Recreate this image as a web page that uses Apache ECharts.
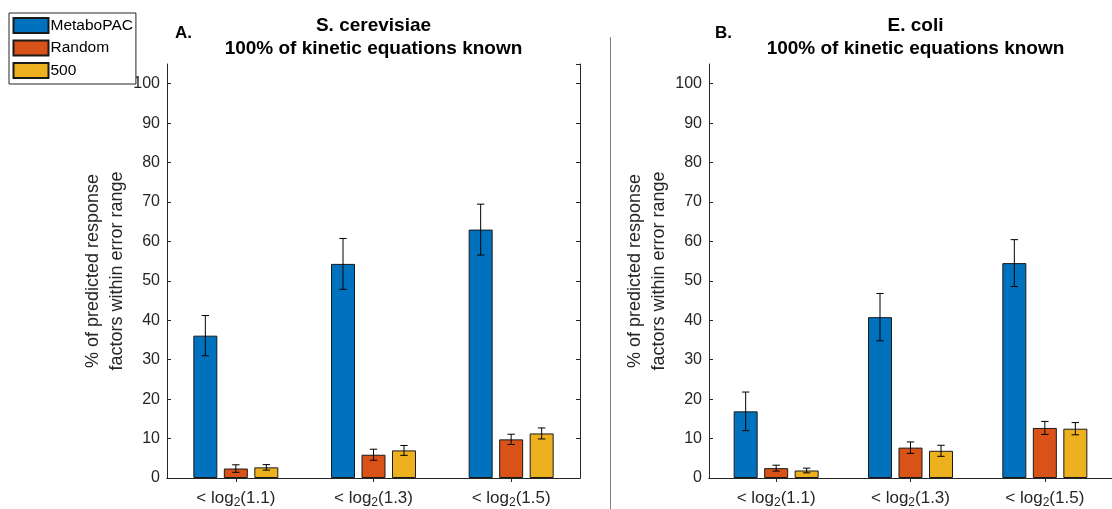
<!DOCTYPE html>
<html>
<head>
<meta charset="utf-8">
<script src="https://cdn.jsdelivr.net/npm/echarts@6/dist/echarts.min.js"></script>
<style>
html,body{margin:0;padding:0;background:#fff;}
#chart{width:1112px;height:509px;}
</style>
</head>
<body>
<div id="chart"></div>
<script>
// ---- data ----
const categories = ['< log2(1.1)', '< log2(1.3)', '< log2(1.5)'];
const seriesNames = ['MetaboPAC', 'Random', '500'];
const yTicks = [0, 10, 20, 30, 40, 50, 60, 70, 80, 90, 100];

// S. cerevisiae (panel A)
const scMetaboPAC = [36.1, 54.3, 63.0];
const scMetaboPACErr = [5.1, 6.45, 6.45];
const scRandom = [2.4, 5.9, 9.8];
const scRandomErr = [0.95, 1.4, 1.3];
const sc500 = [2.7, 7.0, 11.3];
const sc500Err = [0.7, 1.25, 1.4];

// E. coli (panel B)
const ecMetaboPAC = [16.9, 40.8, 54.5];
const ecMetaboPACErr = [4.9, 6.0, 5.95];
const ecRandom = [2.5, 7.7, 12.7];
const ecRandomErr = [0.75, 1.45, 1.65];
const ec500 = [1.9, 6.9, 12.5];
const ec500Err = [0.6, 1.4, 1.55];

// ---- styles ----
const colors = ['#0072BD', '#D95319', '#EDB120'];
const FONT = "'Liberation Sans', Arial, Helvetica, sans-serif";
const TXT = '#262626';
const BAR_W = 24;
const BAR_STEP = 30.5;
const GRID_W = 413;

const chart = echarts.init(document.getElementById('chart'));

function xAxes(gridIndex) {
  return [
    {
      type: 'category', gridIndex: gridIndex, data: categories, position: 'bottom',
      axisLine: { lineStyle: { color: TXT, width: 1 } },
      axisTick: { show: false },
      axisLabel: {
        interval: 0,
        fontFamily: FONT, fontSize: 17, color: TXT, margin: 9,
        formatter: function (v) { return v.replace('log2', 'log{sub|2}'); },
        rich: { sub: { fontFamily: FONT, fontSize: 12, color: TXT, padding: [10, 0, 0, 0] } }
      }
    },
    {
      type: 'category', gridIndex: gridIndex, data: categories, position: 'top',
      axisLine: { lineStyle: { color: TXT, width: 1 } },
      axisTick: { show: true, inside: true, alignWithLabel: true, interval: 0, length: 4, lineStyle: { color: TXT } },
      axisLabel: { show: false, interval: 0 }
    }
  ];
}
function yAxes(gridIndex) {
  return [
    {
      type: 'value', gridIndex: gridIndex, min: 0, max: 105, interval: 10, position: 'left',
      name: '% of predicted response\nfactors within error range',
      nameLocation: 'middle', nameGap: 38, nameRotate: 90,
      nameTextStyle: { fontFamily: FONT, fontSize: 18, color: TXT, lineHeight: 24 },
      axisLine: { show: true, lineStyle: { color: TXT, width: 1 } },
      axisTick: { show: true, inside: true, length: 4, lineStyle: { color: TXT } },
      axisLabel: { fontFamily: FONT, fontSize: 16, color: TXT, margin: 7, showMaxLabel: false,
        formatter: function (v) { return yTicks.indexOf(v) >= 0 ? String(v) : ''; } },
      splitLine: { show: false }
    },
    {
      // right-hand box edge: a left-type axis shifted to the right edge, ticks pointing inward (left)
      type: 'value', gridIndex: gridIndex, min: 0, max: 105, interval: 10, position: 'left',
      offset: -GRID_W,
      axisLine: { show: true, onZero: false, lineStyle: { color: TXT, width: 1 } },
      axisTick: { show: true, inside: false, length: 4, lineStyle: { color: TXT } },
      axisLabel: { show: false },
      splitLine: { show: false }
    }
  ];
}

function barSeries(name, idx, values, xi, yi) {
  return {
    type: 'bar', name: name, data: values, xAxisIndex: xi, yAxisIndex: yi,
    barWidth: BAR_W, barGap: ((BAR_STEP - BAR_W) / BAR_W * 100) + '%',
    itemStyle: { color: colors[idx], borderColor: '#1a1a1a', borderWidth: 1 },
    emphasis: { disabled: true }, z: 2
  };
}
function errSeries(name, idx, values, errs, xi, yi) {
  const off = (idx - 1) * BAR_STEP;
  return {
    type: 'custom', name: name + ' err', xAxisIndex: xi, yAxisIndex: yi, z: 5,
    data: values.map(function (v, i) { return [i, v, errs[i]]; }),
    encode: { x: 0, y: 1 },
    renderItem: function (params, api) {
      const x = api.value(0), m = api.value(1), e = api.value(2);
      const hi = api.coord([x, m + e]);
      const lo = api.coord([x, m - e]);
      const cx = hi[0] + off;
      const cap = 3.7;
      const st = { stroke: '#000', lineWidth: 1 };
      return {
        type: 'group', children: [
          { type: 'line', shape: { x1: cx, y1: hi[1], x2: cx, y2: lo[1] }, style: st },
          { type: 'line', shape: { x1: cx - cap, y1: hi[1], x2: cx + cap, y2: hi[1] }, style: st },
          { type: 'line', shape: { x1: cx - cap, y1: lo[1], x2: cx + cap, y2: lo[1] }, style: st }
        ]
      };
    }
  };
}

const panels = [
  { vals: [scMetaboPAC, scRandom, sc500], errs: [scMetaboPACErr, scRandomErr, sc500Err] },
  { vals: [ecMetaboPAC, ecRandom, ec500], errs: [ecMetaboPACErr, ecRandomErr, ec500Err] }
];
const series = [];
panels.forEach(function (p, g) {
  const xi = g * 2, yi = g * 2;
  seriesNames.forEach(function (n, k) { series.push(barSeries(n, k, p.vals[k], xi, yi)); });
  seriesNames.forEach(function (n, k) { series.push(errSeries(n, k, p.vals[k], p.errs[k], xi, yi)); });
});

const titleFont = 'bold 19px ' + FONT;
chart.setOption({
  animation: false,
  backgroundColor: '#fff',
  grid: [
    { left: 167, top: 64, width: GRID_W, bottom: 30 },
    { left: 709, top: 64, width: GRID_W, bottom: 30 }
  ],
  xAxis: xAxes(0).concat(xAxes(1)),
  yAxis: yAxes(0).concat(yAxes(1)),
  legend: {
    data: seriesNames, orient: 'vertical', left: 9, top: 13,
    itemWidth: 35, itemHeight: 15, itemGap: 5.5,
    padding: [4, 3, 5, 3.5],
    backgroundColor: '#fff', borderColor: '#262626', borderWidth: 1, borderRadius: 0,
    icon: 'rect',
    textStyle: { fontFamily: FONT, fontSize: 15.5, color: '#000', lineHeight: 15, padding: [0, 0, 0, -3] },
    selectedMode: false
  },
  graphic: [
    { type: 'text', x: 373.5, y: 37.5, style: { text: 'S. cerevisiae\n100% of kinetic equations known', align: 'center', verticalAlign: 'middle', font: titleFont, lineHeight: 23, fill: '#000' } },
    { type: 'text', x: 915.5, y: 37.5, style: { text: 'E. coli\n100% of kinetic equations known', align: 'center', verticalAlign: 'middle', font: titleFont, lineHeight: 23, fill: '#000' } },
    { type: 'text', x: 175, y: 33, style: { text: 'A.', align: 'left', verticalAlign: 'middle', font: 'bold 17px ' + FONT, fill: '#000' } },
    { type: 'text', x: 715, y: 33, style: { text: 'B.', align: 'left', verticalAlign: 'middle', font: 'bold 17px ' + FONT, fill: '#000' } },
    { type: 'line', shape: { x1: 610.5, y1: 37, x2: 610.5, y2: 509 }, style: { stroke: '#808080', lineWidth: 1 } }
  ],
  series: series
});
</script>
</body>
</html>
